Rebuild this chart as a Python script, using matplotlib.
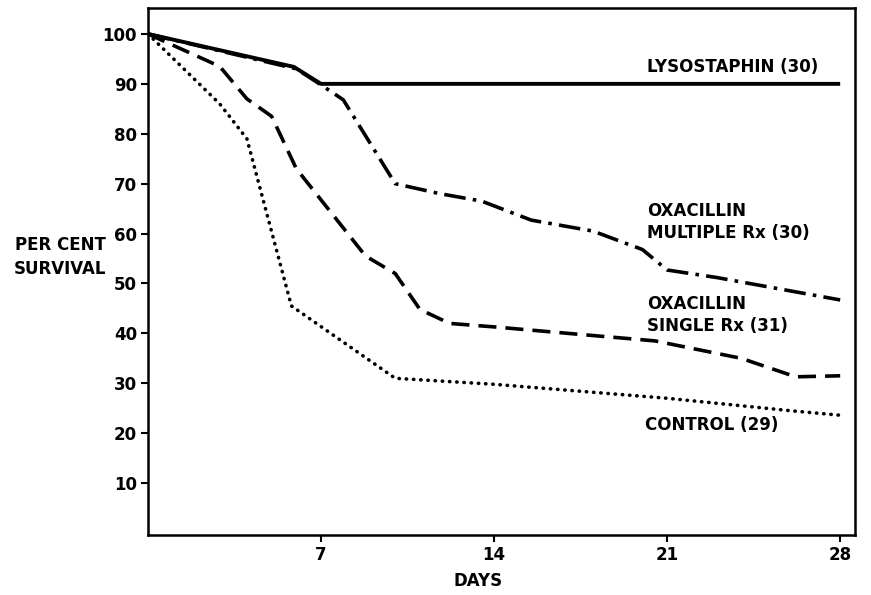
import matplotlib
matplotlib.use("Agg")
import matplotlib.pyplot as plt

# Survival curves (day, per cent survival)
lyso_days = [0, 5.9, 7, 28]
lyso_surv = [100, 93.4, 90, 90]

multi_days = [0, 6, 7, 7.9, 10, 11.8, 13.5, 15.5, 18, 20, 21, 23, 28]
multi_surv = [100, 93, 89.8, 86.8, 70, 68, 66.5, 62.7, 60.5, 56.8, 52.7, 51.2, 46.7]

single_days = [0, 2.9, 4, 5, 6, 8.8, 10, 11, 12.2, 14, 17, 20.5, 24, 26.2, 28]
single_surv = [100, 93.5, 87, 83.5, 73, 55.5, 52, 44.8, 42, 41.3, 40, 38.5, 35, 31.3, 31.5]

control_days = [0, 2.9, 4, 5.8, 10, 14, 21, 26, 28]
control_surv = [100, 86, 79, 45.5, 31, 29.8, 27, 24.5, 23.6]

yticks = [10, 20, 30, 40, 50, 60, 70, 80, 90, 100]
xticks = [7, 14, 21, 28]

plt.rcParams["font.family"] = "DejaVu Sans"
plt.rcParams["font.weight"] = "bold"

fig = plt.figure(figsize=(8.71, 5.95), dpi=100)
ax = fig.add_axes([148 / 871, 1 - 535 / 595, (855 - 148) / 871, (535 - 8) / 595])

ax.plot(lyso_days, lyso_surv, color="black", lw=2.8, solid_capstyle="butt")
ax.plot(multi_days, multi_surv, color="black", lw=2.6, linestyle=(0, (6, 2, 1, 2)))
ax.plot(single_days, single_surv, color="black", lw=2.6, linestyle=(0, (5, 2.5)))
ax.plot(control_days, control_surv, color="black", lw=2.6, linestyle=(0, (0.1, 1.9)),
        dash_capstyle="round")

ax.set_xlim(0, 28.6)
ax.set_ylim(-0.4, 105.2)
ax.set_xticks(xticks)
ax.set_yticks(yticks)
ax.set_xticklabels([str(t) for t in xticks], fontsize=12, fontweight="bold")
ax.set_yticklabels([str(t) for t in yticks], fontsize=12, fontweight="bold")
ax.tick_params(direction="out", length=5, width=1.5, pad=3)
for s in ax.spines.values():
    s.set_linewidth(1.8)

lab = dict(fontsize=12, fontweight="bold", ha="left", va="center", linespacing=1.25)
ax.text(20.2, 93.4, "LYSOSTAPHIN (30)", **lab)
ax.text(20.2, 62.3, "OXACILLIN\nMULTIPLE Rx (30)", **lab)
ax.text(20.2, 43.7, "OXACILLIN\nSINGLE Rx (31)", **lab)
ax.text(20.1, 21.6, "CONTROL (29)", **lab)

fig.text(60 / 871, 1 - 257 / 595, "PER CENT\nSURVIVAL", fontsize=12, fontweight="bold",
         ha="center", va="center", linespacing=1.5)
fig.text(478 / 871, 1 - 581 / 595, "DAYS", fontsize=12, fontweight="bold",
         ha="center", va="center")

fig.savefig("out.png", dpi=100)
